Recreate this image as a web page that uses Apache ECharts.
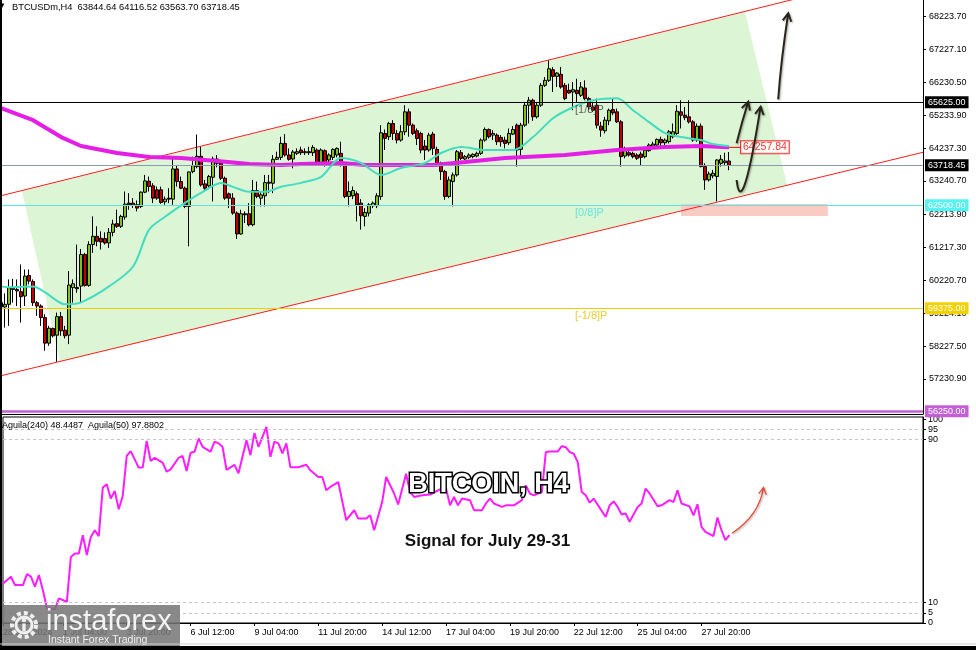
<!DOCTYPE html>
<html><head><meta charset="utf-8">
<script src="https://cdn.jsdelivr.net/npm/echarts@6/dist/echarts.min.js"></script>
<style>html,body{margin:0;padding:0;background:#fff}#c{width:976px;height:650px}</style>
</head><body><div id="c"></div>
<script>
// ---------- DATA ----------
const symbolName = 'BTCUSDm,H4';
const opens = [59546,59415,59496,59999,59949,59878,59748,60372,60190,59546,
59445,59093,58318,58761,58560,59123,58711,58560,59999,60009,
60050,61006,60070,61308,61559,61499,61489,61358,61680,61942,
61862,62143,62566,62566,62516,62466,62899,63231,63090,62969,
62969,62606,62717,62687,63603,63221,63019,62466,63523,63674,
63986,63150,63090,63352,63905,63774,63321,62848,62717,62264,
61630,62244,62244,61912,62949,62717,62788,63200,63170,63895,
63955,64378,64026,63905,64076,64177,64096,64127,64096,64177,
63794,64157,63875,63955,64026,64076,63724,62768,62788,62848,
62566,62163,62264,62486,62486,62768,64680,64580,64982,64680,
64479,64731,65335,64932,64761,64680,64298,64177,64660,64197,
63774,63523,62768,63221,63422,64096,63905,63955,63976,63996,
64076,64479,64801,64630,64630,64560,64479,64398,64660,64932,
64197,64932,65536,65687,65184,65536,66140,66291,66613,66412,
66472,66140,65989,65939,65989,65838,66059,65737,65486,65536,
64902,64761,65063,65405,65335,65032,63996,64096,64076,64026,
64056,63976,64157,64298,64328,64499,64398,64429,64580,64680,
65335,65234,65184,65032,64479,64902,63674,63271,63392,63372,
63774,63794,63844.64];
const closes = [59415,59496,59999,59949,59899,59727,60351,60200,59546,59445,
59093,58318,58771,58540,59123,58691,58540,60080,60120,59969,
61006,60070,61308,61559,61408,61388,61358,61680,61932,61862,
62163,62536,62516,62496,62415,62899,63241,63070,62717,62717,
62586,62687,62687,63603,63221,63019,62466,63512,63704,63986,
63120,63019,63372,63905,63774,63321,62717,62717,62264,61630,
62244,62214,61912,62949,62768,62818,63190,63170,63895,63955,
64378,64026,63895,64117,64127,64096,64127,64096,64257,63794,
64177,63774,64026,64197,64227,63754,62768,62919,62949,62516,
62184,62284,62516,62566,62788,64700,64529,64982,64680,64479,
64731,65335,64932,64680,64529,64177,64177,64630,64227,63754,
63523,62768,63271,63422,64127,63925,63976,64026,64046,64076,
64479,64801,64580,64680,64429,64429,64378,64680,64801,64177,
64932,65536,65687,65184,65536,66140,66291,66643,66412,66512,
66089,65737,65908,66009,65888,66089,65737,65486,65385,64932,
64781,65083,65385,65304,65032,63976,64197,64026,63976,63925,
63955,64177,64328,64358,64499,64398,64479,64731,64730,65355,
65234,65163,65032,64479,64902,63674,63271,63452,63472,63875,
63895,63845,63718.45];
const lows = [59143,58791,58842,59546,59445,58942,59445,60100,59445,59143,
58842,58086,58237,58489,57754,58540,58459,58288,59546,59848,
59546,60030,60030,61056,61257,61157,61308,61207,61559,61811,
61811,62063,62365,62415,62314,62415,62868,62919,62566,62667,
62546,62516,62566,62516,63070,62989,62415,61257,63472,63623,
63070,62919,62989,62616,63653,63271,62667,62415,62214,61479,
61610,61962,61862,61862,62717,62466,62466,62868,62868,63875,
63875,63976,63855,63623,64026,64026,64026,64026,63996,63724,
63754,63674,63794,63875,63955,63674,62717,62466,62687,62012,
61761,61862,62163,62415,62415,62667,64177,64479,64479,64378,
64429,64630,64580,64630,64328,64076,63875,64127,64026,63674,
63271,62667,62717,62466,63372,63875,63875,63905,63925,63955,
64026,64429,64529,64479,64328,64277,64227,64328,64630,63674,
63925,64882,64982,65063,65133,65486,66089,66241,65939,66089,
66039,65687,65888,65385,65637,65788,65687,65385,65335,64831,
64580,64680,64932,65234,65002,63674,63925,63976,63925,63875,
63724,63925,64127,64257,64277,64277,64328,64378,64529,64630,
64831,65083,64982,64429,64429,63654,62969,63221,63321,62617,
63674,63724,63563.70];
const highs = [59798,59828,60251,60271,60251,60704,60553,60553,60251,59596,
59496,59194,58842,58791,59244,59264,58842,60502,60251,61308,
61177,61056,61408,62163,61862,61710,61680,61811,62063,62365,
62214,62919,62868,62717,62647,62919,63422,63372,63170,63070,
63070,62768,63019,63925,63724,63372,63070,63523,63976,64650,
64277,63271,63422,63976,64026,63824,63372,62888,62868,62314,
62365,62314,62566,63271,63221,62919,63422,63422,64026,64127,
64580,64660,64227,64177,64227,64277,64227,64277,64328,64227,
64227,64197,64076,64227,64257,64429,63774,63221,63070,62919,
62687,62415,62566,62616,62868,64932,64801,65032,65083,64781,
64932,65536,65435,64982,64831,64731,64479,64700,64731,64277,
63824,63573,63372,63493,64177,64177,64026,64076,64076,64127,
64529,64862,64831,64781,64680,64630,64580,64831,64902,64982,
65002,65637,65788,65737,65637,66210,66392,66895,66694,66543,
66694,66210,66190,66241,66341,66241,66291,65788,65637,65737,
65032,65184,65435,65737,65435,65083,64277,64177,64127,64076,
64127,64227,64378,64429,64529,64580,64529,64781,64982,65536,
65687,65486,65687,65083,64982,64982,63774,63523,63573,63895,
64026,64096,64116.52];

// moving averages, sampled [bar index, price]
const ma200 = [[0,65446],[8,65083],[15,64570],[20,64298],[29,64086],[37,63966],[45,63935],[54,63845],[62,63754],[70,63724],[75,63754],[85,63784],[91,63724],[108,63724],[116,63815],[126,63935],[141,64026],[154,64177],[166,64268],[175,64298],[182,64257.84]];
const maFast = [[0,60040],[2,60010],[8,60040],[11,59858],[16,59496],[20,59556],[27,60040],[33,60643],[37,61761],[41,62154],[46,62576],[50,62878],[55,63180],[58,63060],[62,62909],[66,62909],[70,63060],[75,63180],[80,63362],[85,63935],[90,63784],[95,63422],[100,63633],[106,63784],[110,64086],[115,64268],[121,64177],[128,64177],[133,64570],[138,65143],[143,65476],[148,65687],[154,65748],[158,65385],[162,65023],[166,64690],[170,64570],[175,64479],[178,64358],[182,64298]];

// oscillator Aguila(240), [bar index, value]
const aguila240 = [[0,19.4],[2,22.7],[3,18.6],[5,18.6],[6,24.0],[7,22.7],[8,17.8],[9,23.5],[10,16.1],[11,7.2],[13,6.7],[14,12.1],[16,10.4],[17,32.4],[18,34.1],[19,34.1],[20,43.0],[21,33.3],[22,42.2],[23,45.5],[24,42.6],[25,66.4],[26,68.0],[27,61.0],[28,64.7],[29,55.8],[30,62.3],[31,81.9],[32,84.3],[34,76.2],[35,76.2],[36,89.2],[37,79.4],[38,81.0],[40,78.6],[41,74.2],[42,75.3],[44,81.0],[45,81.9],[46,74.5],[47,83.5],[48,84.0],[49,90.5],[50,86.4],[52,84.0],[53,88.9],[54,88.1],[55,86.4],[56,75.1],[58,77.5],[59,73.4],[61,89.6],[62,82.3],[63,93.2],[64,86.4],[66,96.2],[67,81.5],[68,88.9],[69,88.1],[70,83.2],[71,88.1],[72,76.4],[74,76.4],[76,77.6],[77,74.9],[79,71.6],[80,71.6],[81,65.1],[82,66.7],[84,69.1],[86,50.4],[88,55.3],[89,51.2],[91,51.2],[92,52.8],[93,45.5],[95,59.3],[96,71.6],[98,63.5],[99,58.1],[101,73.2],[102,64.2],[103,61.8],[105,62.6],[107,63.0],[110,66.0],[111,66.0],[112,57.7],[113,61.8],[114,57.7],[115,61.0],[117,60.2],[118,55.3],[120,55.3],[121,58.6],[122,61.0],[123,58.6],[125,56.9],[126,57.7],[128,57.7],[130,60.2],[131,67.5],[132,63.5],[133,62.6],[135,64.2],[136,83.8],[137,84.1],[139,84.1],[140,86.7],[141,86.2],[142,83.8],[143,83.0],[144,78.9],[145,64.2],[146,62.6],[147,59.0],[148,61.0],[151,52.0],[152,57.7],[153,59.6],[154,56.9],[155,53.2],[156,53.7],[157,49.6],[159,56.9],[160,58.6],[161,65.9],[162,63.5],[164,57.2],[165,57.7],[167,60.2],[168,59.3],[169,65.1],[170,58.6],[172,57.2],[173,52.8],[174,58.2],[175,47.1],[176,44.7],[178,42.6],[179,51.7],[180,45.5],[181,40.6],[182,43.1]];
const aguila240Last = 48.4487;
const aguila50Last = 97.8802;

// axis ticks
const priceTicks = [68223.70, 67227.10, 66230.50, 65233.90, 64237.30, 63240.70, 62213.90, 61217.30, 60220.70, 59224.10, 58227.50, 57230.90];
const oscTicks = [0, 5, 10, 90, 95, 100];
const oscLevels = [5, 10, 90, 95];
const timeTickIdx = [0, 15, 31, 47, 63, 79, 95, 111, 127, 143, 159, 175];
const timeTickLabels = ['28 Jun 2024', '1 Jul 04:00', '3 Jul 20:00', '6 Jul 12:00', '9 Jul 04:00', '11 Jul 20:00', '14 Jul 12:00', '17 Jul 04:00', '19 Jul 20:00', '22 Jul 12:00', '25 Jul 04:00', '27 Jul 20:00'];

// horizontal levels (prices)
const levelPrices = [65625, 63718.45, 62500, 59375, 56250];
const murreyPrices = [68750, 65625, 62500, 59375];
const murreyNames = ['[2/8]P', '[1/8]P', '[0/8]P', '[-1/8]P'];
// channel (bar index, price)
const upperChannel = [[0, 62791], [230.5, 69721]];
const lowerChannel = [[0, 57330], [230.5, 64108]];
const channelFill = [[5.2, 62934], [186.0, 68365], [196.5, 63130], [14.7, 57746]];
const supportZone = [62176, 62540];

// ---------- STYLES ----------
const FONT = '"Liberation Sans", Arial, sans-serif';
const levelStyles = [
  {line: '#000000', width: 1, bg: '#000000'},
  {line: '#8c9cb0', width: 1, bg: '#000000'},
  {line: '#5fe3e3', width: 1, bg: '#55f2f2'},
  {line: '#f2cc00', width: 1, bg: '#f5d000'},
  {line: '#c35fd6', width: 2.5, bg: '#c35fd6'}
];
const murreyColors = ['#ff2020', '#404040', '#48dede', '#e3c000'];
const arrowsMain = [
  [[183.9, 64381], [185.2, 65028], [186.8, 65643]],
  [[183.9, 63268], [184.5, 62600], [186.2, 62661], [189.9, 65492]],
  [[194.3, 65716], [195.0, 66909], [196.8, 68326]]
];
const arrowSub = [[182.65, 44.0], [189.5, 52.9], [190.55, 66.5]];
const zoneIdx = [170, 206.7];

const candleData = opens.map((o, i) => [i, o, closes[i], lows[i], highs[i]]);

function arrowShapes(api, pts, color, width, head) {
  const P = pts.map(p => api.coord(p));
  const ch = [];
  const s = {stroke: color, lineWidth: width, fill: 'none', shadowBlur: 2, shadowColor: 'rgba(0,0,0,0.35)', shadowOffsetX: 1, shadowOffsetY: 1};
  let prev;
  const end = P[P.length - 1];
  if (P.length === 4) {
    ch.push({type: 'bezierCurve', shape: {x1: P[0][0], y1: P[0][1], cpx1: P[1][0], cpy1: P[1][1], cpx2: P[2][0], cpy2: P[2][1], x2: P[3][0], y2: P[3][1]}, style: s});
    prev = P[2];
  } else {
    ch.push({type: 'bezierCurve', shape: {x1: P[0][0], y1: P[0][1], cpx1: P[1][0], cpy1: P[1][1], x2: P[2][0], y2: P[2][1]}, style: s});
    prev = P[1];
  }
  const dx = end[0] - prev[0], dy = end[1] - prev[1], L = Math.hypot(dx, dy) || 1;
  const ux = dx / L, uy = dy / L, a = 0.5, c = Math.cos(a), sn = Math.sin(a);
  const h1 = [end[0] - head * (ux * c - uy * sn), end[1] - head * (uy * c + ux * sn)];
  const h2 = [end[0] - head * (ux * c + uy * sn), end[1] - head * (uy * c - ux * sn)];
  ch.push({type: 'polyline', shape: {points: [h1, end, h2]}, style: s});
  return ch;
}

const chart = echarts.init(document.getElementById('c'), null, {renderer: 'canvas', width: 976, height: 650});

const option = {
  animation: false,
  backgroundColor: '#ffffff',
  textStyle: {fontFamily: FONT},
  grid: [
    {left: 1.1, top: 0, width: 921.9, height: 414, show: false},
    {left: 1.1, top: 417, width: 921.9, height: 206, show: true, borderColor: '#000', borderWidth: 1, backgroundColor: 'transparent'}
  ],
  xAxis: [
    {type: 'value', gridIndex: 0, min: 0, max: 230.5, axisLine: {show: true, onZero: false, lineStyle: {color: '#000', width: 1}}, axisTick: {show: false}, axisLabel: {show: false}, splitLine: {show: false}},
    {type: 'value', gridIndex: 1, min: 0, max: 230.5, axisLine: {show: true, onZero: false, lineStyle: {color: '#000', width: 1}},
      axisTick: {show: true, length: 3, customValues: timeTickIdx, lineStyle: {color: '#000'}},
      axisLabel: {show: true, customValues: timeTickIdx, formatter: v => timeTickLabels[timeTickIdx.indexOf(v)], align: 'left', margin: 5, fontSize: 9, color: '#000', fontFamily: FONT},
      splitLine: {show: false}}
  ],
  yAxis: [
    {type: 'value', gridIndex: 0, position: 'right', min: 56168, max: 68729, axisLine: {show: true, onZero: false, lineStyle: {color: '#000'}},
      axisTick: {show: true, length: 3, customValues: priceTicks, lineStyle: {color: '#000'}},
      axisLabel: {customValues: priceTicks, formatter: v => v.toFixed(2), margin: 6, fontSize: 9, color: '#000', fontFamily: FONT},
      splitLine: {show: false}},
    {type: 'value', gridIndex: 1, position: 'right', min: 0, max: 101, axisLine: {show: true, onZero: false, lineStyle: {color: '#000'}},
      axisTick: {show: true, length: 3, customValues: oscTicks, lineStyle: {color: '#000'}},
      axisLabel: {customValues: oscTicks, margin: 5, fontSize: 9, color: '#000', fontFamily: FONT},
      splitLine: {show: false}}
  ],
  series: [
    {type: 'custom', name: 'channelFill', xAxisIndex: 0, yAxisIndex: 0, z: 1, silent: true,
      renderItem: (params, api) => ({type: 'polygon', shape: {points: channelFill.map(p => api.coord(p))}, style: {fill: '#dcf6d5'}}),
      data: [channelFill[0]]},
    {type: 'custom', name: 'zone', xAxisIndex: 0, yAxisIndex: 0, z: 1, silent: true,
      renderItem: (params, api) => {
        const a = api.coord([zoneIdx[0], supportZone[1]]), b = api.coord([zoneIdx[1], supportZone[0]]);
        return {type: 'rect', shape: {x: a[0], y: a[1], width: b[0] - a[0], height: b[1] - a[1]}, style: {fill: '#f9cbc3'}};
      },
      data: [[zoneIdx[0], supportZone[1]]]},
    {type: 'line', name: 'upper', xAxisIndex: 0, yAxisIndex: 0, z: 2, data: upperChannel, showSymbol: false, clip: true, lineStyle: {color: '#ff1a1a', width: 1}},
    {type: 'line', name: 'lower', xAxisIndex: 0, yAxisIndex: 0, z: 2, data: lowerChannel, showSymbol: false, clip: true, lineStyle: {color: '#ff1a1a', width: 1}},
    {type: 'candlestick', name: 'BTCUSDm', xAxisIndex: 0, yAxisIndex: 0, z: 3, barWidth: 3, data: candleData,
      itemStyle: {color: '#80c21c', color0: '#c00000', borderColor: '#000', borderColor0: '#000', borderWidth: 1},
      markLine: {silent: true, symbol: ['none', 'none'], animation: false,
        data: levelPrices.map((p, k) => ({yAxis: p,
          lineStyle: {color: levelStyles[k].line, width: levelStyles[k].width, type: 'solid'},
          label: {show: true, position: 'end', distance: 2, formatter: () => p.toFixed(2), backgroundColor: levelStyles[k].bg, color: '#fff', padding: [2, 3, 1, 3], fontSize: 9, fontFamily: FONT}}))}},
    {type: 'line', name: 'MA200', xAxisIndex: 0, yAxisIndex: 0, z: 4, data: ma200, showSymbol: false, lineStyle: {color: '#e41ee4', width: 4}},
    {type: 'line', name: 'MAfast', xAxisIndex: 0, yAxisIndex: 0, z: 4, data: maFast, showSymbol: false, smooth: 0.3, lineStyle: {color: '#42dcc0', width: 2}},
    {type: 'line', name: 'maTag', xAxisIndex: 0, yAxisIndex: 0, z: 4, showSymbol: false,
      data: [[182, ma200[ma200.length - 1][1]], [185, ma200[ma200.length - 1][1]]], lineStyle: {color: '#ff0000', width: 1}},
    {type: 'scatter', name: 'maLabel', xAxisIndex: 0, yAxisIndex: 0, z: 6, symbolSize: 0,
      data: [[185, ma200[ma200.length - 1][1]]],
      label: {show: true, position: 'right', distance: 0, formatter: () => ma200[ma200.length - 1][1].toFixed(2), color: '#ff0000', borderColor: '#ff0000', borderWidth: 1, backgroundColor: '#fff', padding: [1, 2, 0, 2], fontSize: 10.5, fontFamily: FONT}},
    {type: 'scatter', name: 'murrey', xAxisIndex: 0, yAxisIndex: 0, z: 6, symbolSize: 0,
      data: murreyPrices.map((p, k) => ({value: [143.5, p], label: {formatter: murreyNames[k], color: murreyColors[k]}})),
      label: {show: true, position: [0, 2], align: 'left', verticalAlign: 'top', fontSize: 11, fontFamily: FONT}},
    {type: 'custom', name: 'arrows', xAxisIndex: 0, yAxisIndex: 0, z: 7, silent: true,
      renderItem: (params, api) => ({type: 'group', children: arrowShapes(api, arrowsMain[params.dataIndex], '#2a2519', 2, 9)}),
      data: arrowsMain.map(a => a[0])},
    {type: 'line', name: 'Aguila(240)', xAxisIndex: 1, yAxisIndex: 1, z: 4, data: aguila240, showSymbol: false, lineStyle: {color: '#ff1cff', width: 2},
      markLine: {silent: true, symbol: ['none', 'none'], label: {show: false}, lineStyle: {color: '#c4c4c4', type: [3, 3], width: 1}, data: oscLevels.map(v => ({yAxis: v}))}},
    {type: 'custom', name: 'subArrow', xAxisIndex: 1, yAxisIndex: 1, z: 7, silent: true,
      renderItem: (params, api) => ({type: 'group', children: arrowShapes(api, arrowSub, '#f2412c', 1.2, 8)}),
      data: [arrowSub[0]]}
  ],
  graphic: [
    {type: 'text', x: -1, y: 3, z: 100, style: {text: '▼', font: '7px "DejaVu Sans"', fill: '#000'}},
    {type: 'text', x: 12, y: 3, z: 100, style: {text: `${symbolName}  ${opens[182].toFixed(2)} ${highs[182].toFixed(2)} ${lows[182].toFixed(2)} ${closes[182].toFixed(2)}`, font: '9.3px ' + FONT, fill: '#000'}},
    {type: 'text', x: 2, y: 421, z: 100, style: {text: `Aguila(240) ${aguila240Last.toFixed(4)}  Aguila(50) ${aguila50Last.toFixed(4)}`, font: '9px ' + FONT, fill: '#000'}},
    {type: 'text', x: 488.5, y: 485, z: 100, style: {text: 'BITCOIN, H4', font: 'bold 27px ' + FONT, fill: '#ffffff', stroke: '#000', lineWidth: 3, align: 'center', verticalAlign: 'middle', shadowColor: 'rgba(0,0,0,0.55)', shadowBlur: 5, shadowOffsetX: 2, shadowOffsetY: 2}},
    {type: 'text', x: 487.5, y: 541, z: 100, style: {text: 'Signal for July 29-31', font: 'bold 17px ' + FONT, fill: '#111', align: 'center', verticalAlign: 'middle', shadowColor: 'rgba(0,0,0,0.45)', shadowBlur: 4, shadowOffsetX: 2, shadowOffsetY: 2}},
    // logo
    {type: 'rect', z: 100, shape: {x: 0, y: 605, width: 180, height: 42}, style: {fill: 'rgba(118,118,118,0.86)'}},
    {type: 'circle', z: 101, shape: {cx: 24, cy: 625, r: 12}, style: {fill: 'none', stroke: '#efefef', lineWidth: 4, lineDash: [4, 3]}},
    {type: 'circle', z: 101, shape: {cx: 24, cy: 625, r: 8}, style: {fill: 'none', stroke: '#efefef', lineWidth: 3}},
    {type: 'circle', z: 101, shape: {cx: 24, cy: 620, r: 2.3}, style: {fill: '#efefef'}},
    {type: 'rect', z: 101, shape: {x: 22.3, y: 623.5, width: 3.4, height: 8}, style: {fill: '#efefef'}},
    {type: 'text', z: 101, x: 46, y: 622, style: {text: 'instaforex', font: '29px ' + FONT, fill: '#f3f3f3', verticalAlign: 'middle'}},
    {type: 'text', z: 101, x: 48, y: 640, style: {text: 'Instant Forex Trading', font: '10.5px ' + FONT, fill: '#f0f0f0', verticalAlign: 'middle'}},
    // frame
    {type: 'rect', z: 110, shape: {x: 0, y: 0, width: 2, height: 650}, style: {fill: '#000'}},
    {type: 'rect', z: 110, shape: {x: 0, y: 643.5, width: 976, height: 1}, style: {fill: '#d0d0d0'}},
    {type: 'rect', z: 110, shape: {x: 0, y: 646, width: 976, height: 4}, style: {fill: '#000'}}
  ]
};
chart.setOption(option);
</script></body></html>
